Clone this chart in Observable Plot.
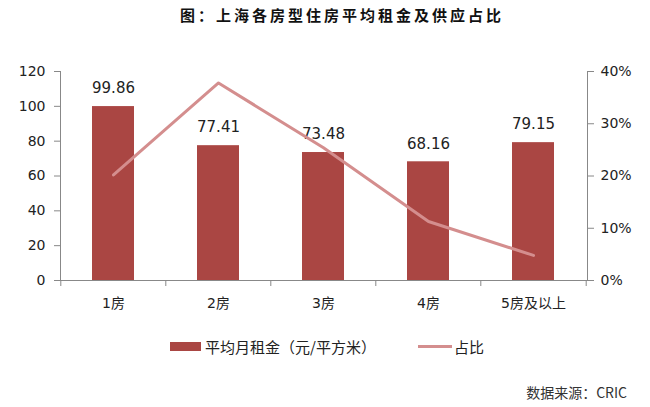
<!DOCTYPE html>
<html>
<head>
<meta charset="utf-8">
<script src="https://cdn.jsdelivr.net/npm/d3@7"></script>
<script src="https://cdn.jsdelivr.net/npm/@observablehq/plot@0.6"></script>
<style>
  html, body { margin: 0; padding: 0; background: #fff; }
  body { width: 650px; height: 407px; position: relative; overflow: hidden; font-family: "DejaVu Sans", "Noto Sans CJK SC", sans-serif; color: #222; }
  #title { position: absolute; left: 0; width: 684px; top: 3px; text-align: center; font-family: "Noto Sans CJK SC", sans-serif; font-weight: bold; font-size: 15px; letter-spacing: 3px; color: #111; line-height: 24px; }
  #chart { position: absolute; left: 0; top: 30px; }
  .legend { position: absolute; top: 336px; font-family: "Noto Sans CJK SC", sans-serif; font-size: 15px; line-height: 22px; color: #222; }
  .sw { position: absolute; }
  #source { position: absolute; right: 23px; top: 382px; font-family: "Noto Sans CJK SC", sans-serif; font-size: 14px; color: #333; }
</style>
</head>
<body>
<div id="title">图：上海各房型住房平均租金及供应占比</div>
<div id="chart"></div>
<div class="sw" style="left:170px;top:342px;width:31px;height:9px;background:#AA4643;"></div>
<div class="legend" style="left:205px;">平均月租金（元/平方米）</div>
<div class="sw" style="left:418px;top:345px;width:34px;height:3px;background:#D48E8E;"></div>
<div class="legend" style="left:454px;">占比</div>
<div id="source">数据来源：CRIC</div>
<script>
const categories = ["1房", "2房", "3房", "4房", "5房及以上"];
const rent = [99.86, 77.41, 73.48, 68.16, 79.15];
const share = [20.2, 37.8, 25.4, 11.3, 4.8];
const leftTicks = [0, 20, 40, 60, 80, 100, 120];
const rightTicks = [0, 10, 20, 30, 40];

const ratio = 120 / 40; // right axis (%) mapped onto left axis domain
const data = categories.map((c, i) => ({cat: c, rent: rent[i], share: share[i]}));

const W = 650, ML = 60, MR = 63;
const half = (W - ML - MR) / categories.length / 2;
const FONT = "'DejaVu Sans', 'Noto Sans CJK SC', sans-serif";

const chart = Plot.plot({
  width: W,
  height: 300,
  marginLeft: ML,
  marginRight: MR,
  marginTop: 41,
  marginBottom: 50,
  style: {fontFamily: FONT, fontSize: "14px", color: "#222", background: "#fff"},
  x: {domain: categories, paddingInner: 0.6, paddingOuter: 0.3},
  y: {domain: [0, 120]},
  marks: [
    Plot.barY(data, {x: "cat", y: "rent", fill: "#AA4643"}),
    Plot.text(data, {x: "cat", y: "rent", text: d => d.rent.toFixed(2), dy: -18, fontSize: 15, fill: "#222"}),
    Plot.lineY(data, {x: "cat", y: d => d.share * ratio, stroke: "#D48E8E", strokeWidth: 3}),
    Plot.ruleY([0], {stroke: "#888"}),
    Plot.frame({anchor: "left", stroke: "#888"}),
    Plot.frame({anchor: "right", stroke: "#888"}),
    Plot.axisY({anchor: "left", ticks: leftTicks, tickSize: 6, tickPadding: 9, stroke: "#888", color: "#222", fontSize: 14, label: null}),
    Plot.axisY({anchor: "right", ticks: rightTicks.map(v => v * ratio), tickFormat: d => Math.round(d / ratio) + "%", tickSize: 6, tickPadding: 7, stroke: "#888", color: "#222", fontSize: 14, label: null}),
    Plot.axisX({tickSize: 0, tickPadding: 18, fontSize: 14, color: "#222", label: null}),
    Plot.axisX({tickSize: 6, tickFormat: () => "", dx: -half, stroke: "#888", label: null}),
    Plot.axisX({ticks: [categories[categories.length - 1]], tickSize: 6, tickFormat: () => "", dx: half, stroke: "#888", label: null})
  ]
});
document.getElementById("chart").appendChild(chart);
</script>
</body>
</html>
